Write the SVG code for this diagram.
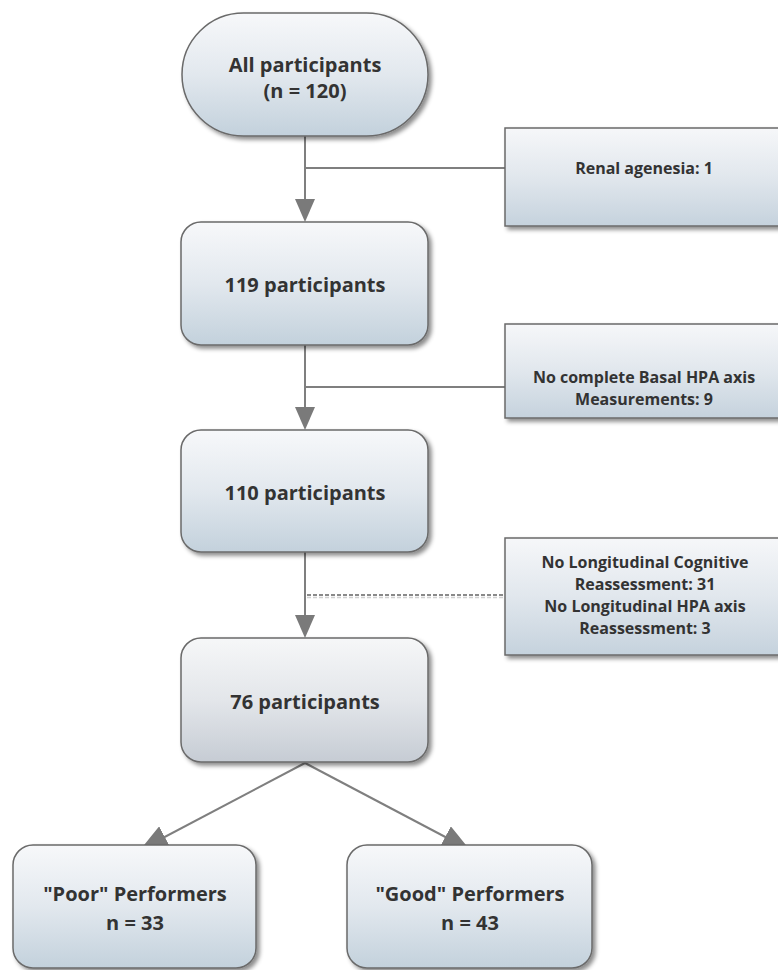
<svg xmlns="http://www.w3.org/2000/svg" width="778" height="970" viewBox="0 0 778 970">
<style>
.t{font-family:"Open Sans","Noto Sans","DejaVu Sans",sans-serif;font-weight:bold;font-size:20px;fill:#333;text-anchor:middle}
.s{font-family:"Open Sans","Noto Sans","DejaVu Sans",sans-serif;font-weight:bold;font-size:16px;fill:#333;text-anchor:middle}
.box{fill:url(#gb);stroke:#6a6a6a;stroke-width:1.5;filter:url(#sh)}
.box76{fill:url(#gg);stroke:#6a6a6a;stroke-width:1.5;filter:url(#sh)}
.side{fill:url(#gs);stroke:#6a6a6a;stroke-width:1.5;filter:url(#sh)}
.ln{stroke:#7f7f7f;stroke-width:2;fill:none}
.dash{stroke:#8a8a8a;stroke-width:2;stroke-dasharray:4 2;fill:none}
.hd{fill:#7a7a7a}
</style>
<defs>
<linearGradient id="gb" x1="0" y1="0" x2="0" y2="1">
<stop offset="0" stop-color="#f7f8fa"/>
<stop offset="0.5" stop-color="#e2e8ee"/>
<stop offset="1" stop-color="#c3d1dc"/>
</linearGradient>
<linearGradient id="gg" x1="0" y1="0" x2="0" y2="1">
<stop offset="0" stop-color="#f6f7f8"/>
<stop offset="0.5" stop-color="#e3e6ea"/>
<stop offset="1" stop-color="#c6ccd4"/>
</linearGradient>
<linearGradient id="gs" x1="0" y1="0" x2="0" y2="1">
<stop offset="0" stop-color="#f6f7f9"/>
<stop offset="0.5" stop-color="#e1e7ed"/>
<stop offset="1" stop-color="#c5d2dd"/>
</linearGradient>
<filter id="sh" x="-10%" y="-10%" width="125%" height="130%">
<feDropShadow dx="3" dy="3" stdDeviation="2" flood-color="#000" flood-opacity="0.45"/>
</filter>
<marker id="ah2" viewBox="0 0 28 24" refX="28" refY="12" markerWidth="28" markerHeight="24" markerUnits="userSpaceOnUse" orient="auto">
<path d="M0,0 L28,12 L0,24 Z" fill="#7a7a7a"/>
</marker>
</defs>

<g id="connectors">
<path class="ln" d="M305,136 V201"/>
<path class="hd" d="M295,199 L315,199 L305,222 Z"/>
<path class="ln" d="M306,168 H505"/>
<path class="ln" d="M305,345 V409"/>
<path class="hd" d="M295,407 L315,407 L305,430 Z"/>
<path class="ln" d="M306,387 H505"/>
<path class="ln" d="M305,552 V617"/>
<path class="hd" d="M295,615 L315,615 L305,638 Z"/>
<path d="M307,597.5 H505" stroke="#d0d0d0" stroke-width="1.5" stroke-dasharray="4 2" fill="none"/>
<path class="dash" d="M307,595 H505"/>
<path class="ln" d="M305,763 L140,850" marker-end="url(#ah2)"/>
<path class="ln" d="M305,763 L470,850" marker-end="url(#ah2)"/>
</g>

<g id="n_all">
<rect class="box" x="182" y="13" width="246" height="123" rx="61.5" ry="61.5"/>
<text class="t" x="305" y="72">All participants</text>
<text class="t" x="305" y="98">(n = 120)</text>
</g>

<g id="n_renal">
<rect class="side" x="505" y="128" width="280" height="98"/>
<text class="s" x="644" y="174">Renal agenesia: 1</text>
</g>

<g id="n_119">
<rect class="box" x="181" y="222" width="247" height="123" rx="20" ry="20"/>
<text class="t" x="305" y="292">119 participants</text>
</g>

<g id="n_basal">
<rect class="side" x="505" y="324" width="280" height="94"/>
<text class="s" x="644" y="383">No complete Basal HPA axis</text>
<text class="s" x="644" y="405">Measurements: 9</text>
</g>

<g id="n_110">
<rect class="box" x="181" y="430" width="247" height="122" rx="20" ry="20"/>
<text class="t" x="305" y="500">110 participants</text>
</g>

<g id="n_long">
<rect class="side" x="505" y="538" width="280" height="117"/>
<text class="s" x="645" y="568">No Longitudinal Cognitive</text>
<text class="s" x="645" y="590">Reassessment: 31</text>
<text class="s" x="645" y="612">No Longitudinal HPA axis</text>
<text class="s" x="645" y="634">Reassessment: 3</text>
</g>

<g id="n_76">
<rect class="box76" x="181" y="638" width="247" height="124" rx="20" ry="20"/>
<text class="t" x="305" y="709">76 participants</text>
</g>

<g id="n_poor">
<rect class="box" x="13" y="845" width="243" height="123" rx="20" ry="20"/>
<text class="t" x="135" y="901">"Poor" Performers</text>
<text class="t" x="135" y="930">n = 33</text>
</g>

<g id="n_good">
<rect class="box" x="347" y="845" width="245" height="123" rx="20" ry="20"/>
<text class="t" x="470" y="901">"Good" Performers</text>
<text class="t" x="470" y="930">n = 43</text>
</g>
</svg>
